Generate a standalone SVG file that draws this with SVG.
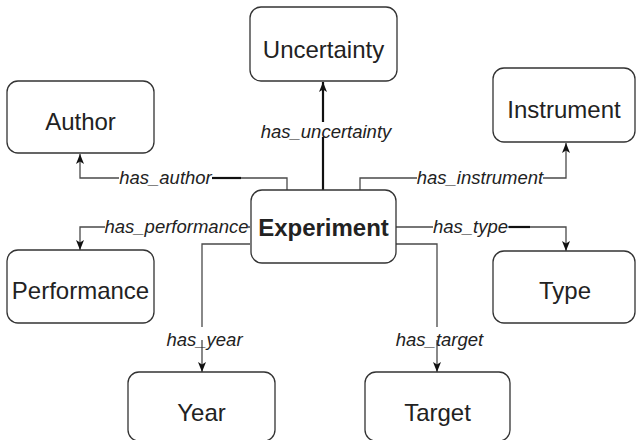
<svg xmlns="http://www.w3.org/2000/svg" width="636" height="440" viewBox="0 0 636 440">
<style>
.node rect{fill:#fff;stroke:#333;stroke-width:1.3}
.node text{font-family:"Liberation Sans",Arial,sans-serif;font-size:24px;fill:#222;text-anchor:middle}
.edge{fill:none;stroke:#4a4a4a;stroke-width:1.3}
.thick{fill:none;stroke:#111;stroke-width:2.2}
.lbl{font-family:"Liberation Sans",Arial,sans-serif;font-size:18.5px;font-style:italic;fill:#222;text-anchor:middle}
.bg{fill:#fff}
</style>
<defs>
<marker id="arr" viewBox="0 0 10 8" refX="10" refY="4" markerWidth="10" markerHeight="8" markerUnits="userSpaceOnUse" orient="auto">
<path d="M0,0 L10,4 L0,8 L2.5,4 z" fill="#111"/>
</marker>
</defs>
<rect width="636" height="440" fill="#fff"/>
<g id="connectors">
<path class="edge" d="M287,190 V178 H80 V154" marker-end="url(#arr)"/>
<path class="thick" d="M212,178 H241"/>
<path class="thick" d="M323,190 V82" marker-end="url(#arr)"/>
<path class="edge" d="M360,190 V178 H566 V143" marker-end="url(#arr)"/>
<path class="edge" d="M250,227 H80 V250" marker-end="url(#arr)"/>
<path class="edge" d="M250,244 H202 V372" marker-end="url(#arr)"/>
<path class="edge" d="M396,227 H566 V251" marker-end="url(#arr)"/>
<path class="thick" d="M509,227 H530"/>
<path class="edge" d="M396,244 H437 V372" marker-end="url(#arr)"/>
<rect class="bg" x="119" y="171" width="93" height="14"/>
<text class="lbl" x="165.5" y="184">has_author</text>
<rect class="bg" x="417" y="171" width="126" height="14"/>
<text class="lbl" x="480" y="184">has_instrument</text>
<rect class="bg" x="260" y="122" width="132" height="15"/>
<text class="lbl" x="326" y="138">has_uncertainty</text>
<rect class="bg" x="105" y="220" width="143" height="14"/>
<text class="lbl" x="176.5" y="233">has_performance</text>
<rect class="bg" x="433" y="220" width="75" height="14"/>
<text class="lbl" x="470.5" y="233">has_type</text>
<rect class="bg" x="167" y="327" width="75" height="13"/>
<text class="lbl" x="204.5" y="346">has_year</text>
<rect class="bg" x="396" y="327" width="87" height="13"/>
<text class="lbl" x="439.5" y="346">has_target</text>
</g>
<g id="node-uncertainty" class="node"><rect x="250" y="7" width="147" height="74" rx="11"/><text x="323.5" y="58">Uncertainty</text></g>
<g id="node-author" class="node"><rect x="7" y="81" width="147" height="72" rx="11"/><text x="80.5" y="130">Author</text></g>
<g id="node-instrument" class="node"><rect x="493" y="68" width="142" height="74" rx="11"/><text x="564" y="118">Instrument</text></g>
<g id="node-experiment" class="node"><rect x="251" y="190" width="145" height="73" rx="11"/><text x="323.5" y="236" style="font-weight:bold">Experiment</text></g>
<g id="node-performance" class="node"><rect x="7" y="250" width="147" height="73" rx="11"/><text x="80.5" y="299">Performance</text></g>
<g id="node-type" class="node"><rect x="493" y="251" width="142" height="72" rx="11"/><text x="565" y="299">Type</text></g>
<g id="node-year" class="node"><rect x="128" y="372" width="147" height="69" rx="11"/><text x="201.5" y="421">Year</text></g>
<g id="node-target" class="node"><rect x="365" y="372" width="145" height="69" rx="11"/><text x="437.5" y="421">Target</text></g>
</svg>
